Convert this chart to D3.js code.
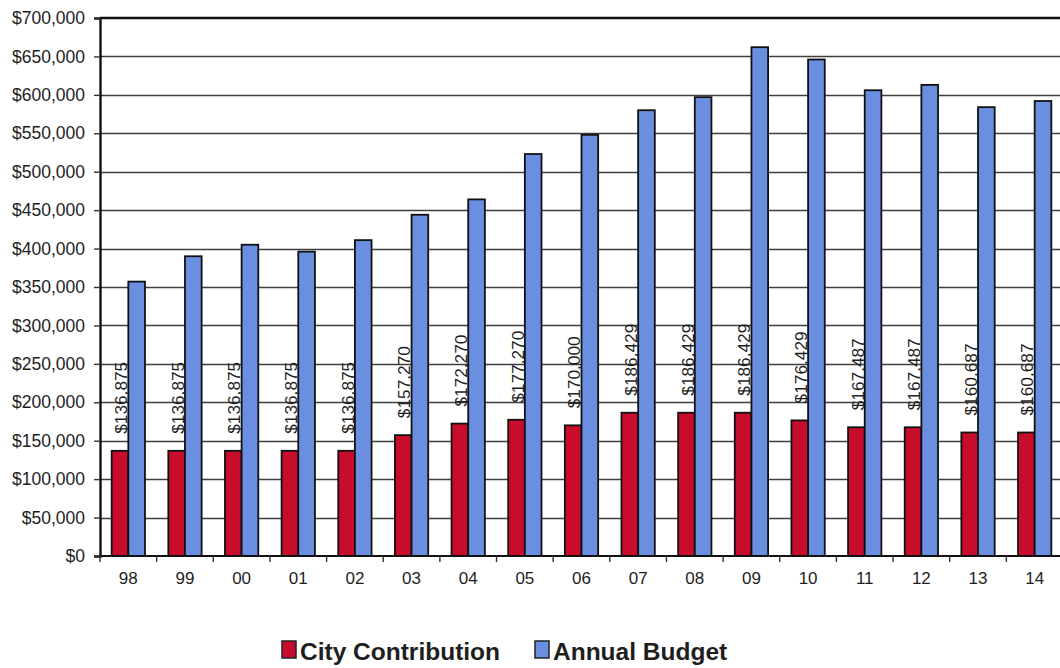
<!DOCTYPE html>
<html>
<head>
<meta charset="utf-8">
<script src="https://cdn.jsdelivr.net/npm/d3@7"></script>
<style>
  html, body { margin: 0; padding: 0; background: #fff; }
  svg { display: block; font-family: "Liberation Sans", Arial, sans-serif; }
</style>
</head>
<body>
<svg id="chart" width="1060" height="668"></svg>
<script>
const years = ["98","99","00","01","02","03","04","05","06","07","08","09","10","11","12","13","14"];
const cityContribution = [136875,136875,136875,136875,136875,157270,172270,177270,170000,186429,186429,186429,176429,167487,167487,160687,160687];
const annualBudget = [357000,390000,405000,396000,411000,444000,464000,523000,548000,580000,597000,662000,646000,606000,613000,584000,592000];
const yTicks = [0,50000,100000,150000,200000,250000,300000,350000,400000,450000,500000,550000,600000,650000,700000];
const seriesNames = ["City Contribution","Annual Budget"];
const seriesColors = ["#c80c2c","#6a8fe0"];

const svg = d3.select("#chart");
const m = {left: 100, top: 18, bottom: 556, right: 1063};

const x = d3.scaleBand().domain(years).range([m.left, m.right]).padding(0);
const sub = d3.scaleBand().domain([0,1]).range([0, x.bandwidth()]).paddingInner(0).paddingOuter(0.7);
const y = d3.scaleLinear().domain([0,700000]).range([m.bottom, m.top]);

const fmt = d3.format("$,");

// gridlines
svg.append("g").selectAll("line").data(yTicks.filter(d => d > 0 && d < 700000)).join("line")
  .attr("x1", m.left).attr("x2", m.right)
  .attr("y1", d => Math.round(y(d)) + 0.5).attr("y2", d => Math.round(y(d)) + 0.5)
  .attr("stroke", "#3f3f3f").attr("stroke-width", 1.4);

// top frame
svg.append("line").attr("x1", m.left).attr("x2", m.right)
  .attr("y1", y(700000)).attr("y2", y(700000))
  .attr("stroke", "#111").attr("stroke-width", 2.4);

// y axis
const yAxis = d3.axisLeft(y).tickValues(yTicks).tickFormat(fmt).tickSize(6).tickPadding(9);
const gy = svg.append("g").attr("transform", `translate(${m.left},0)`).call(yAxis);
gy.select(".domain").attr("stroke", "#111").attr("stroke-width", 2.4);
gy.selectAll(".tick line").attr("stroke", "#333").attr("stroke-width", 1.4);
gy.selectAll(".tick text").attr("font-size", 17.5).attr("fill", "#1e1e1e")
  .attr("font-family", "Liberation Sans, Arial, sans-serif");

// bars
const groups = svg.append("g").selectAll("g").data(years).join("g")
  .attr("transform", d => `translate(${x(d)},0)`);

groups.append("rect")
  .attr("x", sub(0)).attr("width", sub.bandwidth())
  .attr("y", (d,i) => y(cityContribution[i]))
  .attr("height", (d,i) => y(0) - y(cityContribution[i]))
  .attr("fill", seriesColors[0]).attr("stroke", "#111").attr("stroke-width", 1.8);

groups.append("rect")
  .attr("x", sub(1)).attr("width", sub.bandwidth())
  .attr("y", (d,i) => y(annualBudget[i]))
  .attr("height", (d,i) => y(0) - y(annualBudget[i]))
  .attr("fill", seriesColors[1]).attr("stroke", "#111").attr("stroke-width", 1.8);

// value labels
groups.append("text")
  .attr("transform", (d,i) => `translate(${sub(0) + sub.bandwidth()/2 + 1},${y(cityContribution[i]) - 17}) rotate(-90)`)
  .attr("dy", "0.36em")
  .attr("text-anchor", "start")
  .attr("font-size", 17)
  .attr("textLength", 72)
  .attr("lengthAdjust", "spacingAndGlyphs")
  .attr("fill", "#1e1e1e")
  .text((d,i) => fmt(cityContribution[i]));

// x axis
const gx = svg.append("g").attr("transform", `translate(0,${m.bottom})`);
gx.append("line").attr("x1", m.left).attr("x2", m.right).attr("y1", 0).attr("y2", 0)
  .attr("stroke", "#111").attr("stroke-width", 2);
gx.selectAll("line.tk").data(years).join("line").attr("class", "tk")
  .attr("x1", d => x(d)).attr("x2", d => x(d)).attr("y1", 0).attr("y2", 6)
  .attr("stroke", "#333").attr("stroke-width", 1.4);
gx.selectAll("text").data(years).join("text")
  .attr("x", d => x(d) + x.bandwidth()/2).attr("y", 28)
  .attr("text-anchor", "middle").attr("font-size", 17).attr("fill", "#1e1e1e")
  .text(d => d);

// legend
const legend = svg.append("g");
const legendX = [282, 535];
seriesNames.forEach((name, i) => {
  legend.append("rect").attr("x", legendX[i]).attr("y", 641).attr("width", 14).attr("height", 17)
    .attr("fill", seriesColors[i]).attr("stroke", "#222").attr("stroke-width", 1.5);
  legend.append("text").attr("x", legendX[i] + 18).attr("y", 660)
    .attr("font-size", 24.5).attr("font-weight", "bold").attr("fill", "#1e1e1e")
    .text(name);
});
</script>
</body>
</html>
